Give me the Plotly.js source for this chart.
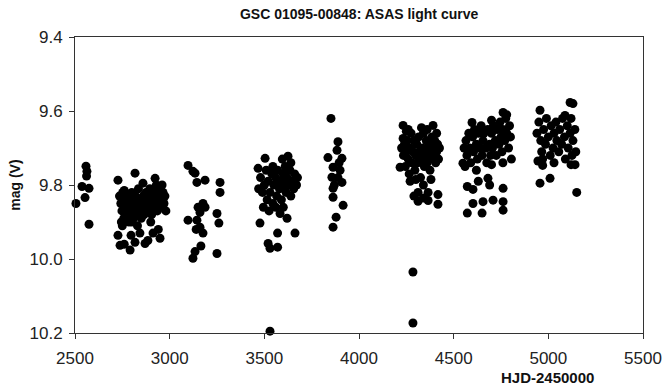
<!DOCTYPE html>
<html>
<head>
<meta charset="utf-8">
<script src="https://cdn.plot.ly/plotly-3.0.1.min.js"></script>
<style>html,body{margin:0;padding:0;background:#fff;}#chart{width:665px;height:387px;}</style>
</head>
<body>
<div id="chart"></div>
<script>
// Season 1
const hjd1 = [2558, 2563, 2561, 2537, 2574, 2553, 2505, 2574];
const mag1 = [9.749, 9.763, 9.776, 9.804, 9.809, 9.834, 9.850, 9.906];
// Season 2
const hjd2 = [2727, 2817, 2859, 2923, 2960,
  2735, 2742, 2748, 2752, 2758, 2765, 2770, 2775, 2780, 2785, 2790, 2795, 2800, 2805, 2810, 2815, 2820, 2825, 2830, 2835,
  2840, 2845, 2850, 2855, 2860, 2865, 2870, 2875, 2880, 2885, 2890, 2895, 2900, 2905, 2910, 2915, 2920, 2925, 2930, 2935,
  2940, 2945, 2950, 2955, 2960, 2965, 2970, 2975, 2980, 2745, 2800, 2830, 2760, 2900,
  2727, 2796, 2843, 2912, 2738, 2791, 2817, 2870, 2949, 2760, 2885, 2940, 2750];
const mag2 = [9.787, 9.768, 9.795, 9.782, 9.800,
  9.83, 9.85, 9.87, 9.82, 9.89, 9.84, 9.86, 9.88, 9.83, 9.90, 9.85, 9.87, 9.82, 9.84, 9.89, 9.86, 9.83, 9.88, 9.85, 9.81,
  9.87, 9.84, 9.89, 9.86, 9.83, 9.88, 9.85, 9.82, 9.87, 9.84, 9.86, 9.81, 9.83, 9.88, 9.85, 9.82, 9.86, 9.84, 9.80, 9.87,
  9.83, 9.85, 9.81, 9.84, 9.86, 9.82, 9.85, 9.83, 9.87, 9.90, 9.90, 9.91, 9.815, 9.90,
  9.936, 9.936, 9.930, 9.930, 9.963, 9.976, 9.955, 9.958, 9.944, 9.960, 9.950, 9.920, 9.910];
// Season 3
const hjd3 = [3097, 3123, 3134, 3144, 3187, 3266, 3266, 3176, 3160, 3097, 3144, 3160, 3176, 3250, 3260, 3165, 3134, 3123, 3250, 3187, 3150, 3140];
const mag3 = [9.747, 9.763, 9.768, 9.793, 9.787, 9.793, 9.820, 9.850, 9.874, 9.895, 9.895, 9.914, 9.930, 9.877, 9.903, 9.965, 9.980, 9.998, 9.985, 9.860, 9.860, 9.920];
// Season 4
const hjd4 = [3504, 3625, 3467, 3545,
  3480, 3490, 3500, 3510, 3515, 3520, 3530, 3540, 3545, 3550, 3560, 3565, 3570, 3580, 3585, 3590, 3600, 3605, 3610, 3615,
  3620, 3630, 3635, 3640, 3650, 3655, 3660, 3670, 3675, 3495, 3525, 3560, 3600, 3470, 3640, 3595,
  3583, 3477, 3620, 3570, 3662, 3520, 3530, 3570, 3530];
const mag4 = [9.728, 9.722, 9.755, 9.750,
  9.78, 9.82, 9.80, 9.76, 9.84, 9.79, 9.82, 9.77, 9.85, 9.80, 9.78, 9.83, 9.76, 9.81, 9.79, 9.84, 9.77, 9.80, 9.75, 9.82,
  9.78, 9.80, 9.76, 9.83, 9.79, 9.81, 9.77, 9.80, 9.78, 9.86, 9.87, 9.86, 9.86, 9.81, 9.74, 9.73,
  9.877, 9.903, 9.890, 9.930, 9.930, 9.958, 9.971, 9.968, 10.195];
// Season 5
const hjd5 = [3852, 3889, 3836, 3884, 3910, 3863, 3900, 3857, 3910, 3863, 3863, 3916, 3879, 3863, 3889, 3895, 3870];
const mag5 = [9.620, 9.683, 9.726, 9.706, 9.728, 9.752, 9.760, 9.779, 9.793, 9.809, 9.833, 9.855, 9.887, 9.914, 9.780, 9.740, 9.800];
// Season 6
const hjd6 = [4233, 4391, 4233, 4250, 4360, 4410,
  4225, 4235, 4240, 4245, 4250, 4255, 4260, 4265, 4270, 4275, 4280, 4285, 4290, 4295, 4300, 4305, 4310, 4315, 4320,
  4325, 4330, 4335, 4340, 4345, 4350, 4355, 4360, 4365, 4370, 4375, 4380, 4385, 4390, 4395, 4400, 4405, 4410, 4415,
  4420, 4425, 4270, 4300, 4340, 4380, 4260, 4330, 4217,
  4312, 4365, 4417, 4312, 4417, 4365, 4290, 4340, 4285, 4285];
const mag6 = [9.639, 9.639, 9.674, 9.655, 9.650, 9.660,
  9.70, 9.72, 9.69, 9.75, 9.71, 9.68, 9.73, 9.77, 9.70, 9.66, 9.74, 9.71, 9.68, 9.76, 9.72, 9.69, 9.74, 9.67, 9.71,
  9.78, 9.73, 9.70, 9.66, 9.75, 9.72, 9.68, 9.74, 9.71, 9.69, 9.76, 9.73, 9.67, 9.70, 9.72, 9.68, 9.74, 9.71, 9.69,
  9.73, 9.70, 9.79, 9.785, 9.80, 9.785, 9.65, 9.645, 9.752,
  9.820, 9.820, 9.826, 9.844, 9.852, 9.842, 9.830, 9.835, 10.035, 10.173];
// Season 7
const hjd7 = [4597, 4761, 4780, 4700,
  4555, 4565, 4570, 4580, 4585, 4590, 4600, 4605, 4610, 4620, 4625, 4630, 4640, 4645, 4650, 4655, 4660, 4670, 4675, 4680,
  4690, 4695, 4700, 4705, 4710, 4720, 4725, 4730, 4740, 4745, 4750, 4755, 4760, 4770, 4775, 4780, 4790, 4795, 4800, 4805,
  4560, 4620, 4700, 4760,
  4549, 4572, 4602, 4681, 4761, 4602, 4655, 4708, 4761, 4572, 4650, 4761, 4690, 4630];
const mag7 = [9.631, 9.604, 9.610, 9.625,
  9.70, 9.68, 9.72, 9.66, 9.70, 9.74, 9.67, 9.71, 9.65, 9.69, 9.73, 9.66, 9.70, 9.64, 9.72, 9.68, 9.66, 9.70, 9.74, 9.65,
  9.69, 9.72, 9.66, 9.70, 9.64, 9.68, 9.72, 9.65, 9.69, 9.63, 9.67, 9.71, 9.65, 9.68, 9.62, 9.66, 9.70, 9.64, 9.67, 9.73,
  9.750, 9.760, 9.745, 9.740,
  9.741, 9.804, 9.812, 9.782, 9.809, 9.850, 9.845, 9.841, 9.845, 9.876, 9.876, 9.868, 9.800, 9.790];
// Season 8
const hjd8 = [5115, 5130, 4956, 5088,
  4940, 4950, 4960, 4965, 4975, 4985, 4990, 5000, 5010, 5015, 5025, 5030, 5040, 5045, 5055, 5060, 5070, 5075, 5085, 5090,
  5100, 5105, 5115, 5120, 5125, 5130, 5140, 5145, 4945, 4970,
  4970, 5030, 5120, 5141, 5009, 4956, 5150];
const mag8 = [9.577, 9.580, 9.598, 9.612,
  9.66, 9.63, 9.68, 9.71, 9.65, 9.69, 9.62, 9.67, 9.72, 9.64, 9.70, 9.66, 9.63, 9.68, 9.71, 9.65, 9.69, 9.62, 9.67, 9.73,
  9.64, 9.70, 9.66, 9.62, 9.72, 9.68, 9.65, 9.71, 9.735, 9.73,
  9.747, 9.740, 9.745, 9.745, 9.782, 9.795, 9.820];

const hjd = [].concat(hjd1, hjd2, hjd3, hjd4, hjd5, hjd6, hjd7, hjd8);
const mag = [].concat(mag1, mag2, mag3, mag4, mag5, mag6, mag7, mag8);

const xTicks = [2500, 3000, 3500, 4000, 4500, 5000, 5500];
const yTicks = [9.4, 9.6, 9.8, 10.0, 10.2];

const font = 'Liberation Sans, Arial, sans-serif';

Plotly.newPlot('chart', [{
  type: 'scatter', mode: 'markers', x: hjd, y: mag,
  marker: {color: '#000', size: 9, symbol: 'circle', line: {width: 0}},
  cliponaxis: false, hoverinfo: 'none'
}], {
  width: 665, height: 387,
  margin: {l: 75, r: 22, t: 37, b: 54},
  paper_bgcolor: '#fff', plot_bgcolor: '#fff',
  showlegend: false,
  title: {text: '<b>GSC 01095-00848: ASAS light curve</b>', font: {family: font, size: 14, color: '#111'},
          x: 0.54, xanchor: 'center', y: 0.963, yanchor: 'middle'},
  xaxis: {range: [2500, 5500], tickvals: xTicks, ticktext: xTicks.map(String),
          showgrid: false, zeroline: false, showline: true, linecolor: '#333', linewidth: 1, mirror: true,
          ticks: 'outside', ticklen: 5, tickcolor: '#333', ticklabelstandoff: 5,
          tickfont: {family: font, size: 17, color: '#222'}},
  yaxis: {range: [10.2, 9.4], tickvals: yTicks, ticktext: yTicks.map(v => v.toFixed(1)),
          showgrid: false, zeroline: false, showline: true, linecolor: '#333', linewidth: 1, mirror: true,
          ticks: 'outside', ticklen: 5, tickcolor: '#333', ticklabelstandoff: 3,
          tickfont: {family: font, size: 17, color: '#222'}},
  annotations: [
    {text: '<b>HJD-2450000</b>', xref: 'paper', yref: 'paper', x: 0.831, y: -0.149, xanchor: 'center', yanchor: 'middle',
     showarrow: false, font: {family: font, size: 15, color: '#111'}},
    {text: '<b>mag (V)</b>', xref: 'paper', yref: 'paper', x: -0.106, y: 0.5, xanchor: 'center', yanchor: 'middle',
     textangle: -90, showarrow: false, font: {family: font, size: 14, color: '#111'}}
  ]
}, {staticPlot: true});
</script>
</body>
</html>
